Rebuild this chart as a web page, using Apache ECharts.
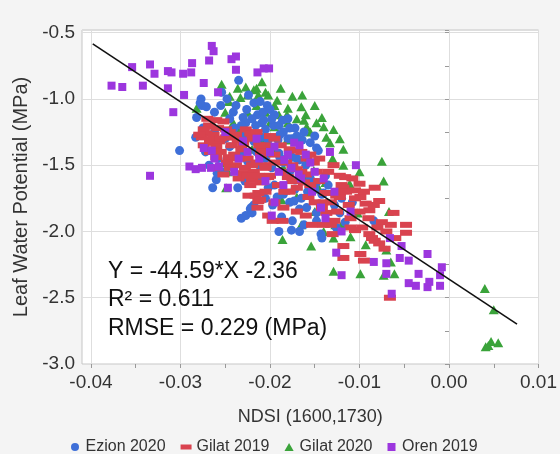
<!DOCTYPE html>
<html><head><meta charset="utf-8">
<script src="https://cdn.jsdelivr.net/npm/echarts@6/dist/echarts.min.js"></script>
<style>html,body{margin:0;padding:0;background:#f4f4f4}#c{width:560px;height:454px}</style>
</head><body><div id="c"></div>
<script>
var xLabelValues = [-0.04, -0.03, -0.02, -0.01, 0.00, 0.01];
var xMinorValues = [-0.04, -0.035, -0.03, -0.025, -0.02, -0.015, -0.01, -0.005, 0.00, 0.005, 0.01];
var seriesNames = ['Ezion 2020', 'Gilat 2019', 'Gilat 2020', 'Oren 2019'];

var ezion2020 = [[-0.0301,-1.39],[-0.0277,-1.00],[-0.0276,-1.05],[-0.0271,-1.06],[-0.0278,-1.03],[-0.0282,-1.14],[-0.0283,-1.29],[-0.0275,-1.22],[-0.0254,-0.95],[-0.0235,-0.86],[-0.0238,-1.05],[-0.0230,-1.14],[-0.0218,-1.03],[-0.0214,-1.12],[-0.0209,-1.18],[-0.0241,-1.10],[-0.0224,-0.97],[-0.0211,-1.02],[-0.0227,-1.18],[-0.0216,-1.20],[-0.0203,-1.05],[-0.0200,-1.08],[-0.0208,-1.10],[-0.0195,-1.12],[-0.0207,-1.16],[-0.0196,-1.20],[-0.0205,-1.23],[-0.0189,-1.27],[-0.0180,-1.30],[-0.0176,-1.30],[-0.0162,-1.25],[-0.0164,-1.31],[-0.0148,-1.37],[-0.0191,-1.31],[-0.0209,-1.29],[-0.0202,-1.31],[-0.0146,-1.39],[-0.0138,-1.58],[-0.0264,-1.67],[-0.0260,-1.61],[-0.0259,-1.56],[-0.0251,-1.55],[-0.0236,-1.67],[-0.0232,-1.90],[-0.0221,-1.82],[-0.0220,-1.86],[-0.0218,-1.80],[-0.0227,-1.88],[-0.0222,-1.83],[-0.0178,-1.78],[-0.0167,-1.83],[-0.0175,-1.92],[-0.0176,-1.99],[-0.0167,-2.00],[-0.0190,-2.00],[-0.0143,-2.02],[-0.0142,-2.05],[-0.0162,-1.95],[-0.0148,-1.92],[-0.0197,-1.80],[-0.0202,-1.67],[-0.0192,-1.74],[-0.0108,-1.78],[-0.0084,-1.92],[-0.0122,-1.86],[-0.0116,-1.93],[-0.0126,-1.97],[-0.0245,-1.36],[-0.0232,-1.42],[-0.0225,-1.47],[-0.0215,-1.40],[-0.0205,-1.45],[-0.0198,-1.52],[-0.0190,-1.41],[-0.0185,-1.48],[-0.0178,-1.55],[-0.0170,-1.45],[-0.0160,-1.50],[-0.0155,-1.60],[-0.0150,-1.68],[-0.0142,-1.72],[-0.0135,-1.65],[-0.0128,-1.80],[-0.0120,-1.75],[-0.0210,-1.60],[-0.0195,-1.65],[-0.0185,-1.72],[-0.0172,-1.68],[-0.0165,-1.75],[-0.0250,-1.30],[-0.0262,-1.25],[-0.0240,-1.22],[-0.0228,-1.28],[-0.0218,-1.32],[-0.0258,-1.45],[-0.0268,-1.50],[-0.0272,-1.40],[-0.0190,-1.20],[-0.0180,-1.15],[-0.0172,-1.22],[-0.0189,-1.44],[-0.0175,-1.44],[-0.0167,-1.46],[-0.0148,-1.63],[-0.0140,-1.71],[-0.0173,-1.77],[-0.0159,-1.82],[-0.0187,-1.89],[-0.0137,-1.92],[-0.0148,-1.86],[-0.0226,-1.08],[-0.0220,-1.15],[-0.0232,-1.20],[-0.0198,-1.15],[-0.0186,-1.16],[-0.0178,-1.22],[-0.0170,-1.28],[-0.0155,-1.33],[-0.0150,-1.28],[-0.0185,-1.25],[-0.0245,-1.15],[-0.0255,-1.05],[-0.0262,-1.10],[-0.0248,-1.00],[-0.0212,-1.50],[-0.0228,-1.62],[-0.0205,-1.75],[-0.0158,-1.70]];

var gilat2019 = [[-0.0260,-1.16],[-0.0252,-1.17],[-0.0268,-1.20],[-0.0258,-1.22],[-0.0249,-1.23],[-0.0271,-1.26],[-0.0263,-1.27],[-0.0249,-1.29],[-0.0276,-1.29],[-0.0236,-1.31],[-0.0257,-1.32],[-0.0267,-1.33],[-0.0230,-1.34],[-0.0243,-1.35],[-0.0274,-1.35],[-0.0260,-1.36],[-0.0267,-1.21],[-0.0274,-1.23],[-0.0279,-1.27],[-0.0267,-1.31],[-0.0246,-1.29],[-0.0267,-1.40],[-0.0260,-1.44],[-0.0246,-1.44],[-0.0227,-1.23],[-0.0222,-1.26],[-0.0230,-1.56],[-0.0220,-1.61],[-0.0213,-1.71],[-0.0224,-1.73],[-0.0213,-1.77],[-0.0255,-1.40],[-0.0240,-1.42],[-0.0232,-1.38],[-0.0225,-1.45],[-0.0215,-1.48],[-0.0238,-1.50],[-0.0228,-1.52],[-0.0218,-1.55],[-0.0210,-1.42],[-0.0205,-1.50],[-0.0248,-1.48],[-0.0262,-1.52],[-0.0252,-1.57],[-0.0235,-1.60],[-0.0222,-1.65],[-0.0210,-1.63],[-0.0200,-1.58],[-0.0216,-1.73],[-0.0211,-1.76],[-0.0214,-1.82],[-0.0202,-1.88],[-0.0197,-1.92],[-0.0186,-1.92],[-0.0173,-1.39],[-0.0159,-1.45],[-0.0151,-1.48],[-0.0129,-1.50],[-0.0122,-1.58],[-0.0126,-1.73],[-0.0191,-1.65],[-0.0184,-1.70],[-0.0170,-1.67],[-0.0157,-1.74],[-0.0142,-1.82],[-0.0153,-1.95],[-0.0137,-1.86],[-0.0209,-1.39],[-0.0195,-1.42],[-0.0182,-1.48],[-0.0205,-1.52],[-0.0213,-1.58],[-0.0202,-1.59],[-0.0180,-1.59],[-0.0170,-1.53],[-0.0162,-1.63],[-0.0138,-1.71],[-0.0122,-1.71],[-0.0116,-1.59],[-0.0108,-1.60],[-0.0100,-1.64],[-0.0118,-1.67],[-0.0105,-1.69],[-0.0083,-1.67],[-0.0093,-1.79],[-0.0078,-1.77],[-0.0084,-1.80],[-0.0089,-1.84],[-0.0062,-1.86],[-0.0075,-1.93],[-0.0048,-1.95],[-0.0048,-2.01],[-0.0097,-1.97],[-0.0105,-1.99],[-0.0089,-2.02],[-0.0083,-2.07],[-0.0118,-2.11],[-0.0072,-2.13],[-0.0078,-2.09],[-0.0122,-1.74],[-0.0099,-1.74],[-0.0118,-2.20],[-0.0095,-2.22],[-0.0099,-2.17],[-0.0066,-2.50],[-0.0188,-1.35],[-0.0178,-1.38],[-0.0165,-1.40],[-0.0155,-1.42],[-0.0145,-1.45],[-0.0135,-1.55],[-0.0148,-1.55],[-0.0160,-1.57],[-0.0175,-1.62],[-0.0195,-1.78],[-0.0185,-1.82],[-0.0170,-1.85],[-0.0150,-1.78],[-0.0132,-1.78],[-0.0125,-1.85],[-0.0140,-1.95],[-0.0128,-1.92],[-0.0110,-1.90],[-0.0112,-1.80],[-0.0100,-1.85],[-0.0205,-1.35],[-0.0195,-1.30],[-0.0215,-1.25],[-0.0200,-1.28],[-0.0132,-1.95],[-0.0110,-1.97],[-0.0086,-2.05],[-0.0245,-1.25],[-0.0238,-1.27],[-0.0220,-1.30],[-0.0212,-1.35],[-0.0235,-1.45],[-0.0220,-1.50],[-0.0195,-1.48],[-0.0188,-1.55],[-0.0175,-1.50],[-0.0165,-1.55],[-0.0155,-1.65],[-0.0145,-1.62],[-0.0140,-1.78],[-0.0120,-1.65],[-0.0115,-1.70],[-0.0105,-1.75],[-0.0095,-1.70],[-0.0090,-1.90],[-0.0080,-1.97],[-0.0070,-2.00],[-0.0065,-1.95],[-0.0060,-2.05],[-0.0130,-2.02],[-0.0160,-1.88],[-0.0178,-1.70],[-0.0205,-1.70],[-0.0225,-1.58],[-0.0245,-1.52],[-0.0255,-1.30],[-0.0270,-1.15]];

var gilat2020 = [[-0.0282,-1.07],[-0.0254,-0.89],[-0.0245,-0.98],[-0.0236,-0.92],[-0.0227,-0.91],[-0.0218,-0.93],[-0.0225,-0.97],[-0.0233,-0.99],[-0.0213,-0.97],[-0.0246,-1.02],[-0.0241,-1.18],[-0.0236,-1.22],[-0.0230,-1.25],[-0.0209,-0.87],[-0.0215,-0.92],[-0.0205,-0.95],[-0.0249,-1.67],[-0.0247,-1.55],[-0.0249,-1.48],[-0.0202,-0.97],[-0.0192,-1.01],[-0.0195,-1.05],[-0.0164,-0.97],[-0.0165,-1.06],[-0.0180,-1.07],[-0.0181,-1.12],[-0.0160,-1.12],[-0.0162,-1.16],[-0.0142,-1.14],[-0.0148,-1.18],[-0.0140,-1.21],[-0.0129,-1.23],[-0.0137,-1.29],[-0.0133,-1.33],[-0.0180,-1.18],[-0.0159,-1.21],[-0.0181,-1.31],[-0.0195,-1.21],[-0.0213,-1.01],[-0.0075,-1.47],[-0.0100,-1.55],[-0.0073,-1.62],[-0.0067,-1.85],[-0.0102,-1.86],[-0.0093,-2.10],[-0.0070,-2.14],[-0.0110,-2.04],[-0.0111,-1.64],[-0.0151,-1.54],[-0.0138,-1.63],[-0.0186,-2.06],[-0.0154,-2.11],[-0.0129,-2.05],[-0.0187,-1.76],[-0.0170,-1.74],[-0.0127,-1.95],[-0.0129,-2.30],[-0.0099,-2.32],[-0.0073,-2.33],[-0.0061,-2.32],[-0.0065,-2.23],[0.0040,-2.43],[0.0050,-2.59],[0.0041,-2.87],[0.0047,-2.83],[0.0055,-2.84],[0.0044,-2.86],[-0.0210,-1.30],[-0.0195,-1.40],[-0.0185,-1.52],[-0.0220,-1.38],[-0.0160,-1.60],[-0.0145,-1.68],[-0.0175,-1.30],[-0.0130,-1.45],[-0.0118,-1.50],[-0.0200,-1.18],[-0.0225,-1.10],[-0.0215,-1.05],[-0.0150,-1.85],[-0.0120,-1.95],[-0.0165,-1.95],[-0.0140,-2.00],[-0.0188,-0.92],[-0.0175,-0.98],[-0.0170,-1.15],[-0.0150,-1.05],[-0.0155,-1.25],[-0.0122,-1.30],[-0.0118,-1.38],[-0.0190,-1.12],[-0.0205,-1.10],[-0.0250,-1.10]];

var oren2019 = [[-0.0377,-0.90],[-0.0365,-0.91],[-0.0354,-0.76],[-0.0342,-0.90],[-0.0334,-0.74],[-0.0329,-0.81],[-0.0314,-0.79],[-0.0310,-0.80],[-0.0314,-0.92],[-0.0308,-1.10],[-0.0334,-1.58],[-0.0297,-0.81],[-0.0296,-0.97],[-0.0287,-0.73],[-0.0288,-0.80],[-0.0268,-0.71],[-0.0265,-0.60],[-0.0263,-0.64],[-0.0243,-0.70],[-0.0238,-0.68],[-0.0238,-0.78],[-0.0214,-0.80],[-0.0274,-0.88],[-0.0258,-0.95],[-0.0201,-0.77],[-0.0207,-0.77],[-0.0290,-1.51],[-0.0283,-1.53],[-0.0276,-1.52],[-0.0266,-1.52],[-0.0247,-1.67],[-0.0265,-1.39],[-0.0274,-1.37],[-0.0257,-1.51],[-0.0167,-1.35],[-0.0195,-1.36],[-0.0195,-1.78],[-0.0198,-1.88],[-0.0143,-1.82],[-0.0153,-1.70],[-0.0165,-1.60],[-0.0133,-1.40],[-0.0104,-1.50],[-0.0126,-2.16],[-0.0024,-2.17],[-0.0053,-2.11],[-0.0066,-2.05],[-0.0055,-2.20],[-0.0173,-1.33],[-0.0184,-1.46],[-0.0176,-1.52],[-0.0168,-1.57],[-0.0225,-1.40],[-0.0240,-1.55],[-0.0212,-1.45],[-0.0205,-1.62],[-0.0190,-1.55],[-0.0230,-1.32],[-0.0250,-1.25],[-0.0262,-1.45],[-0.0155,-1.48],[-0.0138,-1.90],[-0.0120,-2.00],[-0.0008,-2.27],[-0.0034,-2.32],[-0.0045,-2.39],[-0.0037,-2.41],[-0.0024,-2.42],[-0.0022,-2.38],[-0.0010,-2.41],[-0.0010,-2.33],[-0.0064,-2.47],[-0.0045,-2.22],[-0.0084,-2.23],[-0.0070,-2.24],[-0.0070,-2.32],[-0.0120,-2.33],[-0.0215,-1.30],[-0.0200,-1.40],[-0.0180,-1.42],[-0.0160,-1.42],[-0.0150,-1.55],[-0.0140,-1.60],[-0.0128,-1.70],[-0.0110,-1.85],[-0.0235,-1.45],[-0.0185,-1.65]];

var fitLine = [[-0.0398, -0.585], [0.0076, -2.699]];
var annotation = ['Y = -44.59*X -2.36', 'R\u00B2 = 0.611', 'RMSE = 0.229 (MPa)'];

var FONT = '"Liberation Sans", Arial, sans-serif';
var chart = echarts.init(document.getElementById('c'), null, {renderer: 'canvas'});
chart.setOption({
  backgroundColor: '#f4f4f4',
  animation: false,
  textStyle: {fontFamily: FONT},
  grid: {left: 82, right: 9, top: 30, bottom: 90, show: true, backgroundColor: '#ffffff', borderColor: '#c6c6c6', borderWidth: 1},
  legend: {
    top: 434, left: 66, itemGap: 15, itemWidth: 11, itemHeight: 8,
    textStyle: {fontSize: 16, color: '#333', fontFamily: FONT},
    data: [
      {name: seriesNames[0], icon: 'circle'},
      {name: seriesNames[1], icon: 'path://M0,0H11V5H0Z'},
      {name: seriesNames[2], icon: 'path://M4,0L8,7H0Z'},
      {name: seriesNames[3], icon: 'path://M0,0H1V1H0Z'}
    ]
  },
  xAxis: [{
    type: 'value', min: -0.041, max: 0.01,
    name: 'NDSI (1600,1730)', nameLocation: 'middle', nameGap: 44,
    nameTextStyle: {fontSize: 18, color: '#333', fontFamily: FONT},
    axisLine: {show: false},
    axisTick: {show: true, customValues: xLabelValues, length: 4, lineStyle: {color: '#999'}},
    axisLabel: {customValues: xLabelValues, fontSize: 19, color: '#333', margin: 9, fontFamily: FONT,
      formatter: function (v) { return v.toFixed(2); }},
    splitLine: {show: true, lineStyle: {color: '#dedede', width: 1}}
  }, {
    type: 'value', min: -0.041, max: 0.01, position: 'bottom', show: true,
    axisLine: {show: false}, axisLabel: {show: false}, splitLine: {show: false},
    axisTick: {show: true, customValues: xMinorValues, length: 4, lineStyle: {color: '#999'}}
  }],
  yAxis: {
    type: 'value', min: -3.0, max: -0.48, interval: 0.5,
    name: 'Leaf Water Potential (MPa)', nameLocation: 'middle', nameGap: 48,
    nameTextStyle: {fontSize: 20, color: '#333', fontFamily: FONT},
    axisLine: {show: false},
    axisTick: {show: true, length: 4, lineStyle: {color: '#999'}},
    minorTick: {show: true, splitNumber: 2, length: 4, lineStyle: {color: '#999'}},
    axisLabel: {fontSize: 19, color: '#333', margin: 7, fontFamily: FONT, showMaxLabel: false,
      formatter: function (v) { return Math.abs(v * 2 - Math.round(v * 2)) < 1e-6 ? v.toFixed(1) : ''; }},
    splitLine: {show: true, lineStyle: {color: '#dedede', width: 1}}
  },
  series: [
    {name: seriesNames[2], type: 'scatter', data: gilat2020, symbol: 'triangle', symbolSize: [10, 9], itemStyle: {color: '#3aa33a', opacity: 1}},
    {name: seriesNames[0], type: 'scatter', data: ezion2020, symbol: 'circle', symbolSize: 9, itemStyle: {color: '#3e6fd8', opacity: 1}},
    {name: seriesNames[1], type: 'scatter', data: gilat2019, symbol: 'rect', symbolSize: [12, 6], itemStyle: {color: '#d9434f', opacity: 1}},
    {name: seriesNames[3], type: 'scatter', data: oren2019, symbol: 'rect', symbolSize: 8, itemStyle: {color: '#9c36de', opacity: 1}},
    {name: 'fit', type: 'line', data: fitLine, symbol: 'none', lineStyle: {color: '#111', width: 1.6}, z: 5, silent: true}
  ],
  graphic: annotation.map(function (t, i) {
    return {type: 'text', left: 108, top: 260 + i * 28.5, z: 10,
      style: {text: t, font: '23px "Liberation Sans", Arial, sans-serif', fill: '#111'}};
  })
});
</script>
</body></html>
